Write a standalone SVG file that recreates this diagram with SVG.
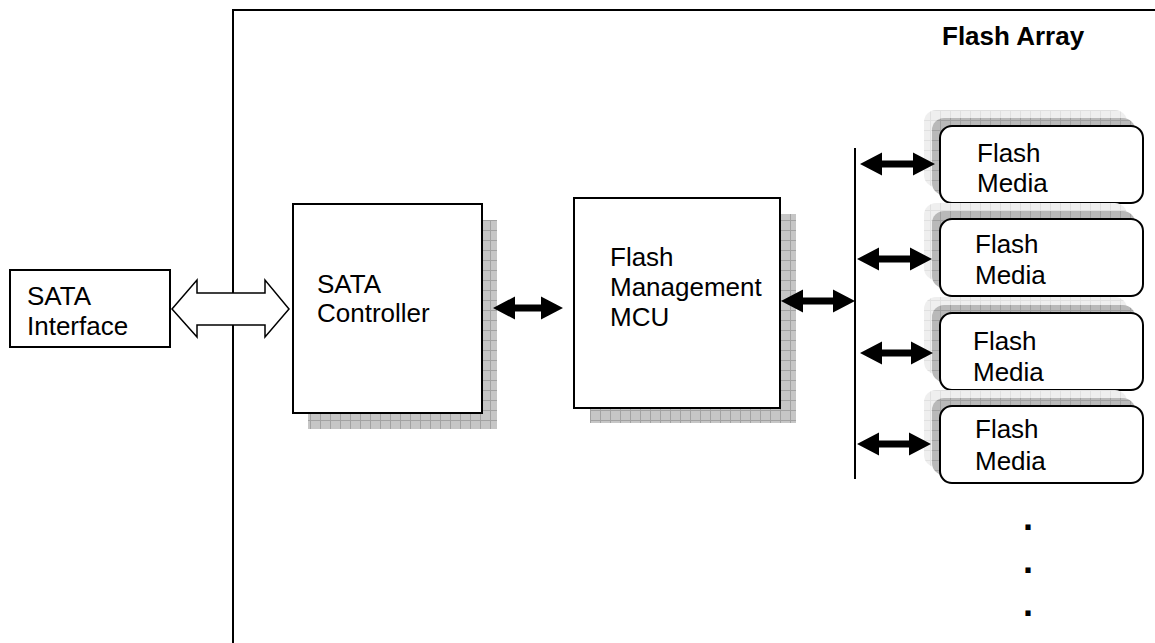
<svg xmlns="http://www.w3.org/2000/svg" width="1155" height="643" viewBox="0 0 1155 643">
  <defs>
    <!-- checkered grid used for the drop shadows -->
    <pattern id="gridDark" width="10" height="10" patternUnits="userSpaceOnUse">
      <rect width="10" height="10" fill="#c6c6c6"/>
      <path d="M0 0.5H10M0.5 0V10" stroke="#a2a2a2" stroke-width="1"/>
    </pattern>
    <pattern id="gridMid" width="10" height="10" patternUnits="userSpaceOnUse">
      <rect width="10" height="10" fill="#b9b9b9"/>
      <path d="M0 0.5H10M0.5 0V10" stroke="#a0a0a0" stroke-width="1"/>
    </pattern>
    <pattern id="gridLight" width="10" height="10" patternUnits="userSpaceOnUse">
      <rect width="10" height="10" fill="#efefef"/>
      <path d="M0 0.5H10M0.5 0V10" stroke="#e0e0e0" stroke-width="1"/>
    </pattern>
  </defs>
  <style>
    text { font-family: "Liberation Sans", Arial, sans-serif; font-size: 26px; fill: #000; }
    .title { font-weight: bold; }
    .dot { font-weight: bold; font-size: 36px; }
    .box { fill: #fff; stroke: #000; stroke-width: 2; }
    .media { fill: #fff; stroke: #000; stroke-width: 2; }
    .frame { fill: none; stroke: #000; stroke-width: 2; }
    .bus { fill: none; stroke: #000; stroke-width: 2; }
    .solid { fill: #000; stroke: none; }
    .hollow { fill: #fff; stroke: #000; stroke-width: 1.5; stroke-linejoin: miter; }
  </style>

  <rect width="1155" height="643" fill="#fff"/>

  <!-- Flash Array enclosure -->
  <g id="flash-array">
    <path class="frame" d="M233 643V10H1155"/>
    <text class="title" x="942" y="45">Flash Array</text>
  </g>

  <!-- SATA Interface -->
  <g id="sata-interface">
    <rect class="box" x="10" y="270" width="160" height="77" stroke-width="1.5"/>
    <text x="27" y="305">SATA</text>
    <text x="27" y="335">Interface</text>
  </g>

  <!-- SATA Controller -->
  <g id="sata-controller">
    <rect x="308" y="220" width="189" height="209" fill="url(#gridDark)"/>
    <rect class="box" x="293" y="204" width="189" height="209"/>
    <text x="317" y="293">SATA</text>
    <text x="317" y="322">Controller</text>
  </g>

  <!-- Flash Management MCU -->
  <g id="flash-mcu">
    <rect x="590" y="214" width="206" height="209" fill="url(#gridDark)"/>
    <rect class="box" x="574" y="198" width="206" height="210"/>
    <text x="610" y="266">Flash</text>
    <text x="610" y="296">Management</text>
    <text x="610" y="326">MCU</text>
  </g>

  <!-- Flash Media units -->
  <g id="flash-media-1">
    <rect x="924" y="110" width="203" height="77" rx="12" fill="url(#gridLight)"/>
    <rect x="932" y="118" width="203" height="77" rx="12" fill="url(#gridMid)"/>
    <rect class="media" x="940" y="126" width="203" height="77" rx="12"/>
    <text x="977" y="162">Flash</text>
    <text x="977" y="192">Media</text>
  </g>
  <g id="flash-media-2">
    <rect x="924" y="203" width="203" height="77" rx="12" fill="url(#gridLight)"/>
    <rect x="932" y="211" width="203" height="77" rx="12" fill="url(#gridMid)"/>
    <rect class="media" x="940" y="219" width="203" height="77" rx="12"/>
    <text x="975" y="253">Flash</text>
    <text x="975" y="284">Media</text>
  </g>
  <g id="flash-media-3">
    <rect x="924" y="297" width="203" height="77" rx="12" fill="url(#gridLight)"/>
    <rect x="932" y="305" width="203" height="77" rx="12" fill="url(#gridMid)"/>
    <rect class="media" x="940" y="313" width="203" height="77" rx="12"/>
    <text x="973" y="350">Flash</text>
    <text x="973" y="381">Media</text>
  </g>
  <g id="flash-media-4">
    <rect x="924" y="390" width="203" height="77" rx="12" fill="url(#gridLight)"/>
    <rect x="932" y="398" width="203" height="77" rx="12" fill="url(#gridMid)"/>
    <rect class="media" x="940" y="406" width="203" height="77" rx="12"/>
    <text x="975" y="438">Flash</text>
    <text x="975" y="470">Media</text>
  </g>

  <!-- continuation marks -->
  <g id="more-media">
    <text class="dot" x="1023" y="530">.</text>
    <text class="dot" x="1023" y="573">.</text>
    <text class="dot" x="1023" y="616">.</text>
  </g>

  <!-- connectors -->
  <g id="connectors">
    <!-- host link -->
    <path class="hollow" d="M172 309L197 280V293H265V280L289 309L265 337V325H197V337Z"/>
    <!-- controller to MCU -->
    <path class="solid" d="M493 308L515 296.5V304.5H541V296.5L563 308L541 319.5V311.5H515V319.5Z"/>
    <!-- MCU to media bus -->
    <path class="solid" d="M781 301L803 289.5V297.5H833V289.5L855 301L833 312.5V304.5H803V312.5Z"/>
    <!-- media bus -->
    <path class="bus" d="M855 148V479"/>
    <!-- bus to each media unit -->
    <path class="solid" d="M860 164L882 152.5V160.5H913V152.5L935 164L913 175.5V167.5H882V175.5Z"/>
    <path class="solid" d="M857 259L879 247.5V255.5H910V247.5L932 259L910 270.5V262.5H879V270.5Z"/>
    <path class="solid" d="M860 353L882 341.5V349.5H911V341.5L933 353L911 364.5V356.5H882V364.5Z"/>
    <path class="solid" d="M857 444L879 432.5V440.5H909V432.5L931 444L909 455.5V447.5H879V455.5Z"/>
  </g>
</svg>
